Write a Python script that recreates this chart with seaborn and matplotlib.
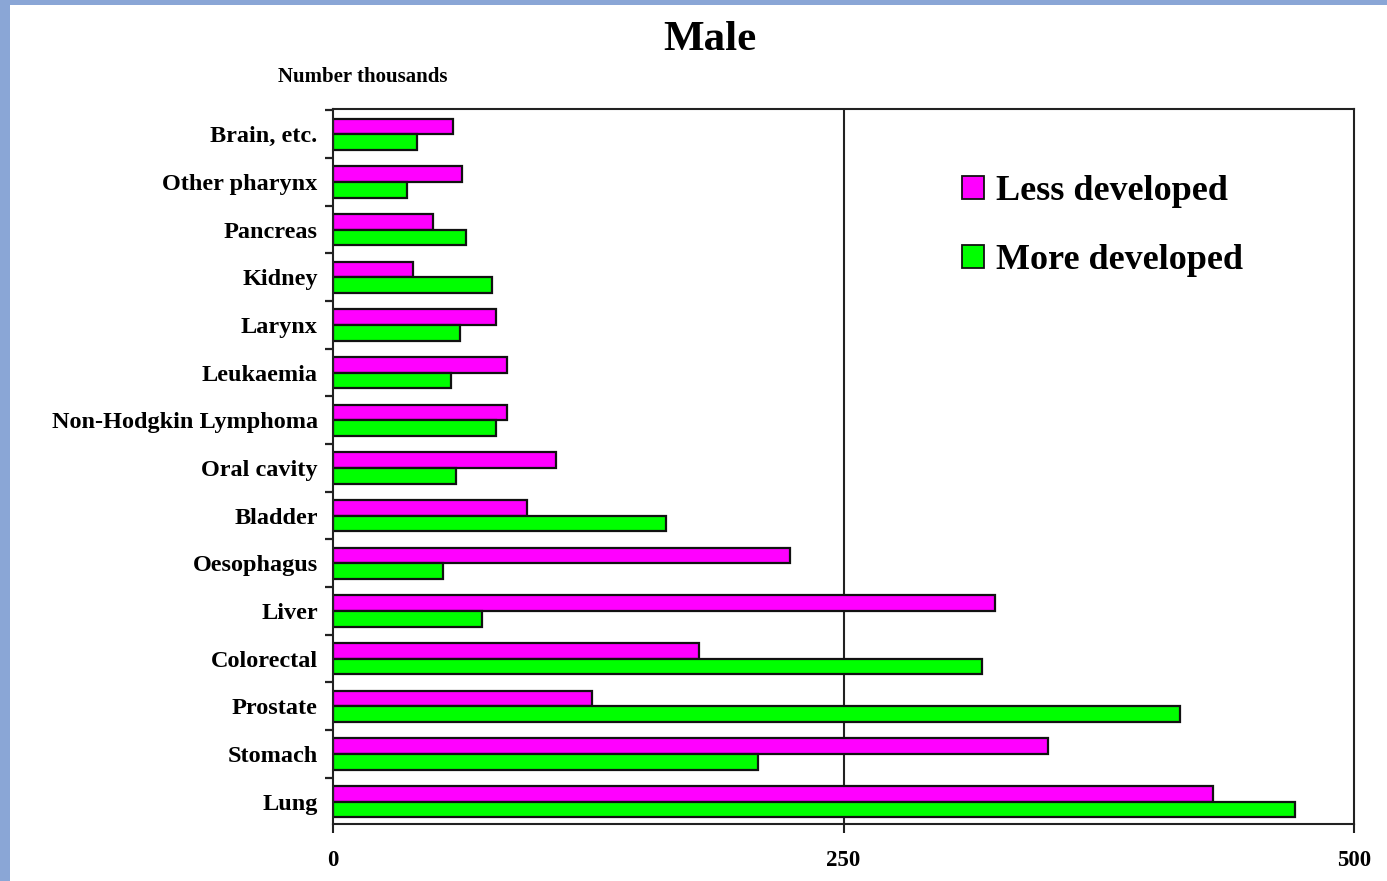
import pandas as pd
import matplotlib.pyplot as plt
import seaborn as sns
from matplotlib.patches import Patch, Rectangle
from matplotlib.ticker import FixedLocator

sites = [
    "Brain, etc.", "Other pharynx", "Pancreas", "Kidney", "Larynx",
    "Leukaemia", "Non-Hodgkin Lymphoma", "Oral cavity", "Bladder",
    "Oesophagus", "Liver", "Colorectal", "Prostate", "Stomach", "Lung",
]
less_developed = [59, 63, 49, 39, 80, 85, 85, 109, 95, 224, 324, 179, 127, 350, 431]
more_developed = [41, 36, 65, 78, 62, 58, 80, 60, 163, 54, 73, 318, 415, 208, 471]
groups = ["Less developed", "More developed"]
colors = {"Less developed": "#ff00ff", "More developed": "#00ff00"}
x_ticks = [0, 250, 500]

df = pd.DataFrame({
    "site": sites * 2,
    "group": [groups[0]] * len(sites) + [groups[1]] * len(sites),
    "value": less_developed + more_developed,
})

sns.set_style("white")
plt.rcParams["font.family"] = ["Liberation Serif", "DejaVu Serif"]
plt.rcParams["font.weight"] = "bold"
plt.rcParams["text.color"] = "black"
plt.rcParams["xtick.color"] = "black"
plt.rcParams["ytick.color"] = "black"

fig = plt.figure(figsize=(13.87, 8.81), dpi=100)
fig.patch.set_facecolor("#8aa6d6")
fig.patches.append(Rectangle((10 / 1387, 0), 1 - 10 / 1387, 1 - 5 / 881,
                             transform=fig.transFigure, facecolor="white",
                             edgecolor="none", zorder=-5))

ax = fig.add_axes([333 / 1387, 1 - 824 / 881, (1354 - 333) / 1387, (824 - 109) / 881])
ax.set_zorder(2)
ax.patch.set_alpha(0)

sns.barplot(data=df, y="site", x="value", hue="group", order=sites,
            hue_order=groups, palette=colors, saturation=1, orient="h", width=0.66,
            edgecolor="#111111", linewidth=1.6, legend=False, ax=ax)

ax.set_xlim(0, 500)
ax.set_ylim(len(sites) - 0.5 - 0.03, -0.5 - 0.03)
ax.set_xticks(x_ticks)
ax.set_xticklabels([str(t) for t in x_ticks], fontsize=16.5, fontweight="bold")
ax.tick_params(axis="x", bottom=True, direction="out", length=6.5, width=1.5, pad=12, color="#222222")
ax.set_yticks(range(len(sites)))
ax.set_yticklabels(sites, fontsize=17.5, fontweight="bold")
ax.tick_params(axis="y", which="major", left=True, length=0, pad=11)
ax.yaxis.set_minor_locator(FixedLocator([i - 0.5 for i in range(len(sites) + 1)]))
ax.tick_params(axis="y", which="minor", left=True, direction="out", length=6, width=1.6, color="#222222")
ax.set_xlabel("")
ax.set_ylabel("")

ax.axvline(250, color="#222222", lw=1.5, zorder=0)
for s in ax.spines.values():
    s.set_visible(True)
    s.set_color("#222222")
    s.set_linewidth(1.5)

handles = [Patch(facecolor=colors[g], edgecolor="#111111", linewidth=1.3, label=g) for g in groups]
ax.legend(handles=handles, loc="upper left", bbox_to_anchor=(0.602, 0.928),
          frameon=False, prop={"size": 26, "weight": "bold"},
          handlelength=0.6, handleheight=0.6, handletextpad=0.35, labelspacing=1.0,
          borderaxespad=0)

fig.text(710 / 1387, 1 - 40 / 881, "Male", ha="center", va="center",
         fontsize=31, fontweight="bold")
fig.text(363 / 1387, 1 - 77 / 881, "Number thousands", ha="center", va="center",
         fontsize=15, fontweight="bold")

fig.savefig("out.png", dpi=100, facecolor=fig.get_facecolor())
